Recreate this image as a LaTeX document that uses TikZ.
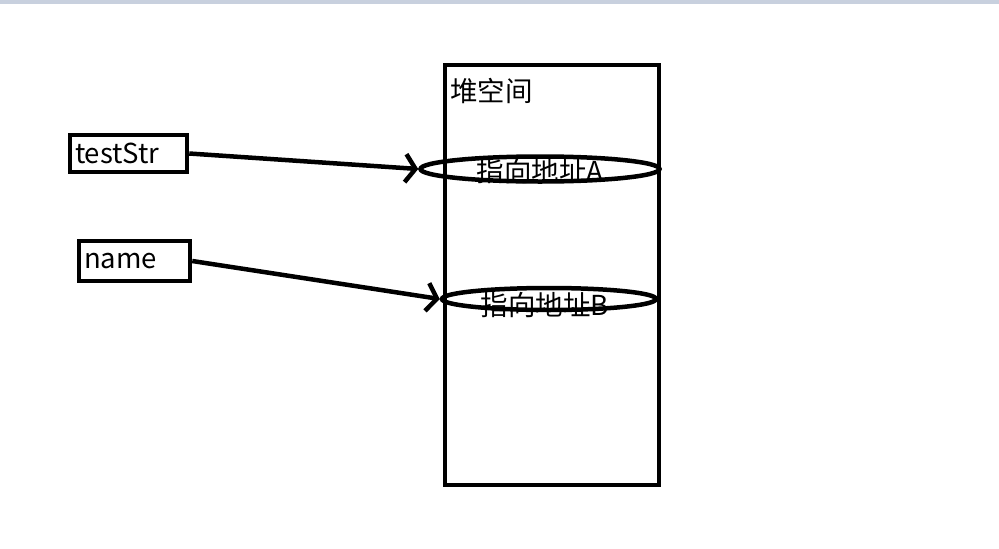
\documentclass[tikz,border=0pt]{standalone}
\usepackage{fontspec}
\setmainfont{Noto Sans CJK SC}
\usetikzlibrary{arrows.meta,shapes.geometric}
\definecolor{barblue}{RGB}{200,208,222}

\begin{document}
\begin{tikzpicture}[->,>={Straight Barb[length=10pt,width=28pt]},x=1pt,y=-1pt,
      line width=4.5pt,
      font=\fontsize{27.5}{32}\selectfont]
    \tikzstyle{var}=[draw,rectangle,inner xsep=5pt,inner ysep=0pt,align=left]
    \tikzstyle{addr}=[draw,ellipse,inner sep=0pt]

    \useasboundingbox (0,0) rectangle (999,549);
    \fill[barblue] (0,0) rectangle (999,4);

    \node[draw,minimum width=214pt,minimum height=420pt] (heap) at (552,275) {};
    \node[anchor=north west,inner sep=0pt] (heaplabel) at ([xshift=5pt,yshift=-13pt]heap.north west) {堆空间};

    \node[var,text width=107pt,minimum height=37pt] (testStr) at (128.5,153.5) {testStr};
    \node[var,text width=101pt,minimum height=40pt] (name)    at (134.5,261)   {name};

    \node[addr,minimum width=239pt,minimum height=25pt] (addrA) at (540,169) {};
    \node (addrAtext) at (540,171) {指向地址A};
    \node[addr,minimum width=214pt,minimum height=22pt] (addrB) at (549,299) {};
    \node (addrBtext) at (545,305) {指向地址B};

    \path (testStr.east) edge (addrA.west)
    (name.east) edge (addrB.west);
  \end{tikzpicture}
\end{document}
